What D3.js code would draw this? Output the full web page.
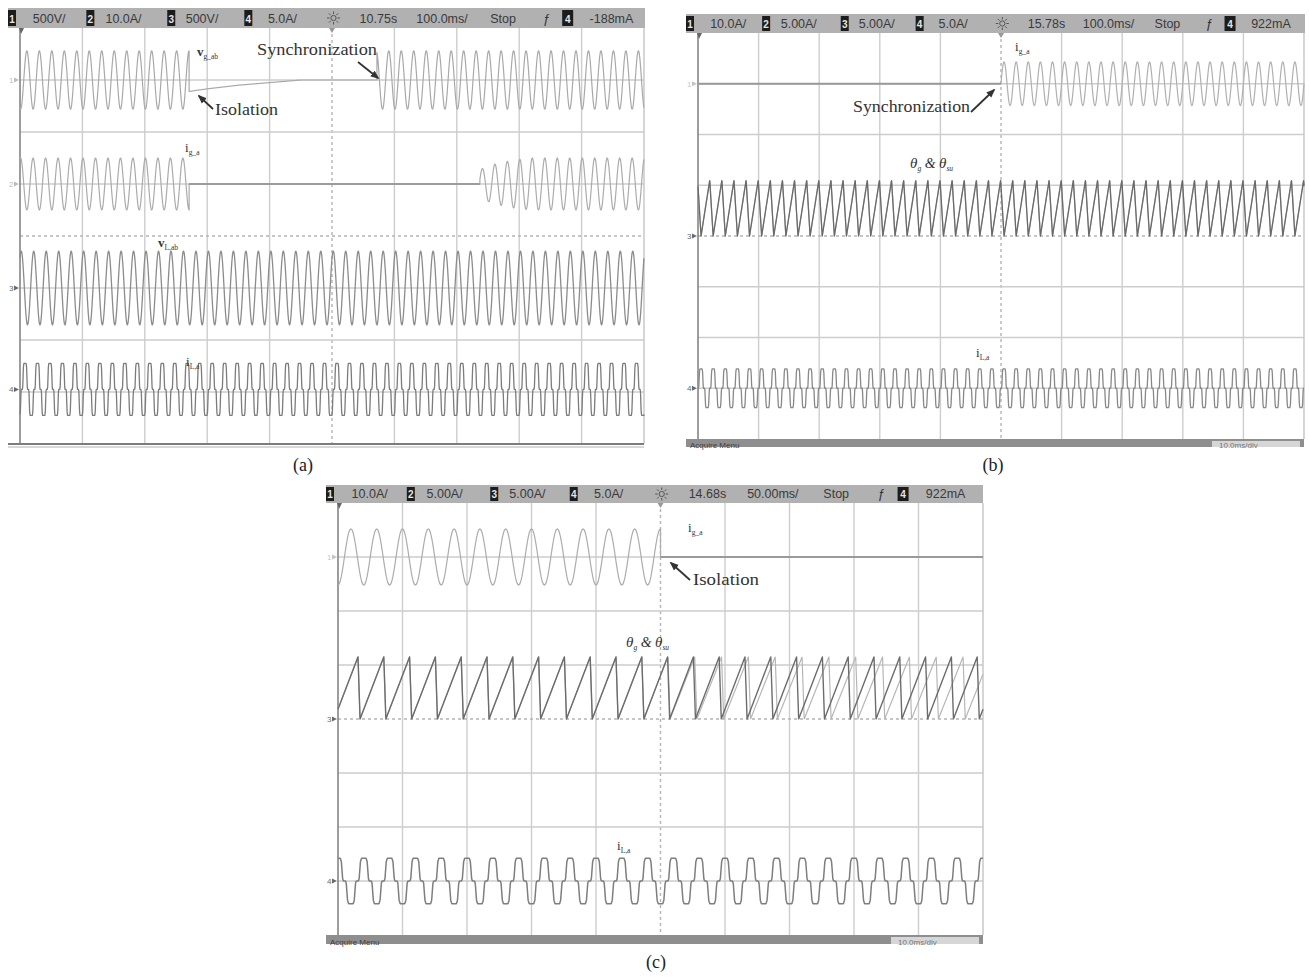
<!DOCTYPE html>
<html>
<head>
<meta charset="utf-8">
<script src="https://cdn.jsdelivr.net/npm/d3@7/dist/d3.min.js"></script>
<style>
  html, body { margin: 0; padding: 0; background: #fff; }
</style>
</head>
<body>
<script>
// ---------- one-cycle waveform shapes (normalised to peak = 1) ----------
// sinusoid, 24 samples per 20 ms cycle, starting at the rising zero crossing
const sineCycle = [0, 0.26, 0.5, 0.71, 0.87, 0.97, 1, 0.97, 0.87, 0.71, 0.5, 0.26,
                   0, -0.26, -0.5, -0.71, -0.87, -0.97, -1, -0.97, -0.87, -0.71, -0.5, -0.26];
// rectifier load current: 120-degree blocks with zero steps between (phase, value)
const loadCycle = [[0, 1], [0.09, 1], [0.13, 0.85], [0.18, 0.1], [0.21, 0], [0.29, 0],
                   [0.32, -0.1], [0.37, -0.85], [0.41, -1], [0.59, -1], [0.63, -0.85],
                   [0.68, -0.1], [0.71, 0], [0.79, 0], [0.82, 0.1], [0.87, 0.85],
                   [0.91, 1], [1, 1]];
// phase angle: ramp 0 -> 2pi, then reset (phase, value) at 50 ms/div
const rampCycle = [[0, 0], [0.92, 1], [1, 0]];
// the same angle as recorded at 100 ms/div (reset spread over the coarser samples)
const rampCycleCoarse = [[0, 0], [0.72, 1], [1, 0]];

// ---------- panel (a): 100 ms/div, values in divisions ----------
const aHeaderScales = ['500V/', '10.0A/', '500V/', '5.0A/'];
const aHeaderStatus = ['10.75s', '100.0ms/', 'Stop', '-188mA'];
const aVgSegments = [
  { from: 0, to: 271, shape: 'sine', origin: 6, period: 20, amp: 0.56 },
  { from: 271, to: 572, points: [[271, -0.22], [300, -0.17], [350, -0.1], [400, -0.05], [451, 0], [572, 0]] },
  { from: 572, to: 1000, shape: 'sine', origin: 6, period: 20, amp: 0.56 }
];
const aIgSegments = [
  { from: 0, to: 271, shape: 'sine', origin: 16, period: 20, amp: 0.5 },
  { from: 271, to: 737, points: [[271, 0], [737, 0]], hold: true },
  { from: 737, to: 1000, shape: 'sine', origin: 16, period: 20,
    amp: [[737, 0.28], [760, 0.38], [790, 0.46], [820, 0.5], [1000, 0.5]] }
];
const aVlSegments = [{ from: 0, to: 1000, shape: 'sine', origin: -3, period: 20, amp: 0.71 }];
const aIlSegments = [{ from: 0, to: 1000, shape: 'load', origin: 8, period: 20, amp: 0.5 }];
const aOffsets = [3, 1, -1, -2.95];

// ---------- panel (b): 100 ms/div ----------
const bHeaderScales = ['10.0A/', '5.00A/', '5.00A/', '5.0A/'];
const bHeaderStatus = ['15.78s', '100.0ms/', 'Stop', '922mA'];
const bIgSegments = [
  { from: 0, to: 500, points: [[0, 0], [500, 0]], hold: true },
  { from: 500, to: 1000, shape: 'sine', origin: 500, period: 20, amp: 0.43 }
];
const bThetaSegments = [{ from: 0, to: 1000, shape: 'rampCoarse', origin: 5, period: 20, amp: 1.1 }];
const bIlSegments = [{ from: 0, to: 1000, shape: 'load', origin: 5, period: 20, amp: 0.38 }];
const bOffsets = [3, 0, 0, -3];

// ---------- panel (c): 50 ms/div ----------
const cHeaderScales = ['10.0A/', '5.00A/', '5.00A/', '5.0A/'];
const cHeaderStatus = ['14.68s', '50.00ms/', 'Stop', '922mA'];
const cIgSegments = [
  { from: 0, to: 250, shape: 'sine', origin: 5, period: 20, amp: 0.52 },
  { from: 250, to: 500, points: [[250, 0], [500, 0]], hold: true }
];
const cThetaSuSegments = [{ from: 0, to: 500, shape: 'ramp', origin: -2.9, period: 20, amp: 1.15 }];
const cThetaGSegments = [
  { from: 0, to: 250, shape: 'ramp', origin: -2.9, period: 20, amp: 1.15 },
  { from: 250, to: 500, shape: 'ramp', origin: 236.6, period: 20.8, amp: 1.15 }
];
const cIlSegments = [{ from: 0, to: 500, shape: 'load', origin: 20, period: 20, amp: 0.42 }];
const cOffsets = [3, 0, 0, -3];

// ---------- helpers ----------
const shapes = { sine: sineCycle, load: loadCycle, ramp: rampCycle, rampCoarse: rampCycleCoarse };

function shapeFn(shape) {
  const pts = Array.isArray(shape[0])
    ? shape
    : shape.map((v, i) => [i / shape.length, v]).concat([[1, shape[0]]]);
  const f = d3.scaleLinear().domain(pts.map(p => p[0])).range(pts.map(p => p[1]));
  return p => f(p - Math.floor(p));
}
function ampFn(amp) {
  if (typeof amp === 'number') return () => amp;
  return d3.scaleLinear().domain(amp.map(p => p[0])).range(amp.map(p => p[1])).clamp(true);
}
function sampleSegment(seg, dt) {
  const n = Math.max(1, Math.round((seg.to - seg.from) / dt));
  const out = [];
  if (seg.points) {
    const f = d3.scaleLinear().domain(seg.points.map(p => p[0])).range(seg.points.map(p => p[1]));
    for (let i = 0; i <= n; i++) {
      const t = seg.from + i * (seg.to - seg.from) / n;
      out.push([t, f(t)]);
    }
  } else {
    const s = shapeFn(shapes[seg.shape]);
    const a = ampFn(seg.amp);
    for (let i = 0; i <= n; i++) {
      const t = seg.from + i * (seg.to - seg.from) / n;
      out.push([t, a(t) * s((t - seg.origin) / seg.period)]);
    }
  }
  return out;
}

const W = 1309, H = 977;
const svg = d3.select('body').append('svg').attr('width', W).attr('height', H)
  .style('display', 'block');
svg.append('rect').attr('width', W).attr('height', H).attr('fill', '#fff');

const defs = svg.append('defs');
defs.append('marker').attr('id', 'arrowHead')
  .attr('viewBox', '0 0 10 10').attr('refX', 8).attr('refY', 5)
  .attr('markerWidth', 5).attr('markerHeight', 5).attr('orient', 'auto')
  .append('path').attr('d', 'M0,1 L10,5 L0,9 Z').attr('fill', '#333');

const SANS = 'Liberation Sans, Arial, sans-serif';
const SERIF = 'Liberation Serif, Times New Roman, serif';

// header layout (fractions of the header width)
const boxFrac = [0, 0.123, 0.25, 0.371];
const scaleFrac = [0.039, 0.153, 0.279, 0.408];
const statusFrac = [0.552, 0.641, 0.757, 0.913];

function drawPanel(cfg) {
  const g = svg.append('g');
  const { x0, x1, y0, y1 } = cfg.plot;
  const x = d3.scaleLinear().domain([0, cfg.span]).range([x0, x1]);
  const y = d3.scaleLinear().domain([-4, 4]).range([y1, y0]);
  const divT = cfg.span / 10;

  // grid
  const grid = g.append('g');
  d3.range(1, 10).forEach(i => {
    grid.append('line').attr('x1', x(i * divT)).attr('x2', x(i * divT))
      .attr('y1', y0).attr('y2', y1)
      .attr('stroke', i === 5 ? '#b4b4b4' : '#cdcdcd').attr('stroke-width', 1.4)
      .attr('stroke-dasharray', i === 5 ? '3,3' : null);
  });
  d3.range(-3, 4).forEach(j => {
    grid.append('line').attr('x1', x0).attr('x2', x1)
      .attr('y1', y(j)).attr('y2', y(j))
      .attr('stroke', j === 0 ? '#b4b4b4' : '#cdcdcd').attr('stroke-width', 1.4)
      .attr('stroke-dasharray', j === 0 ? '3,3' : null);
  });
  grid.append('line').attr('x1', x1).attr('x2', x1).attr('y1', y0).attr('y2', y1)
    .attr('stroke', '#c4c4c4').attr('stroke-width', 1.4);
  grid.append('line').attr('x1', x0).attr('x2', x0).attr('y1', y0).attr('y2', y1)
    .attr('stroke', '#858585').attr('stroke-width', 1.6);
  // time-reference markers
  grid.append('path')
    .attr('d', `M${x(cfg.span / 2) - 3},${y0} L${x(cfg.span / 2) + 3},${y0} L${x(cfg.span / 2)},${y0 + 5} Z`)
    .attr('fill', '#999');
  grid.append('path')
    .attr('d', `M${x0 - 1},${y0} L${x0 + 4},${y0} L${x0 + 1},${y0 + 6} Z`).attr('fill', '#666');

  // traces
  const line = d3.line().x(d => x(d[0])).y(d => d[1]);
  cfg.traces.forEach(tr => {
    const dt = cfg.span / 4000;
    let pts = [];
    tr.segments.forEach(seg => {
      sampleSegment(seg, dt).forEach(p => pts.push([p[0], y(tr.offset + p[1])]));
    });
    g.append('path').attr('d', line(pts)).attr('fill', 'none')
      .attr('stroke', tr.color).attr('stroke-width', tr.width || 1.2)
      .attr('stroke-linejoin', 'round');
    tr.segments.filter(s => s.hold).forEach(seg => {
      const hp = sampleSegment(seg, dt).map(p => [p[0], y(tr.offset + p[1])]);
      g.append('path').attr('d', line(hp)).attr('fill', 'none')
        .attr('stroke', tr.holdColor || tr.color).attr('stroke-width', 2.2);
    });
  });

  // channel ground markers in the left gutter
  cfg.markers.forEach(m => {
    const yy = y(m.offset);
    g.append('text').attr('x', cfg.header.x + 1).attr('y', yy + 3)
      .attr('font-family', SANS).attr('font-size', 8).attr('fill', m.color).text(m.ch);
    g.append('path').attr('d', `M${x0 - 6},${yy - 2.5} L${x0 - 1},${yy} L${x0 - 6},${yy + 2.5} Z`)
      .attr('fill', m.color);
  });

  // header bar
  const hd = cfg.header;
  const hg = g.append('g');
  hg.append('rect').attr('x', hd.x).attr('y', hd.y).attr('width', hd.w).attr('height', hd.h)
    .attr('fill', '#b1b1b1');
  const base = hd.y + hd.h * 0.74;
  boxFrac.forEach((f, i) => {
    const bx = hd.x + f * hd.w;
    hg.append('rect').attr('x', bx).attr('y', hd.y + 2).attr('width', 8).attr('height', hd.h - 4)
      .attr('fill', '#1c1c1c');
    hg.append('text').attr('x', bx + 4).attr('y', base).attr('text-anchor', 'middle')
      .attr('font-family', SANS).attr('font-size', 10).attr('font-weight', 'bold')
      .attr('fill', '#e6e6e6').text(i + 1);
  });
  cfg.headerScales.forEach((s, i) => {
    hg.append('text').attr('x', hd.x + scaleFrac[i] * hd.w).attr('y', base)
      .attr('font-family', SANS).attr('font-size', 12.5).attr('fill', '#3a3a3a').text(s);
  });
  cfg.headerStatus.forEach((s, i) => {
    hg.append('text').attr('x', hd.x + statusFrac[i] * hd.w).attr('y', base)
      .attr('font-family', SANS).attr('font-size', 12.5).attr('fill', '#3a3a3a').text(s);
  });
  // acquisition (run) indicator
  const sx = hd.x + 0.511 * hd.w, sy = hd.y + hd.h / 2;
  hg.append('circle').attr('cx', sx).attr('cy', sy).attr('r', 2.6)
    .attr('fill', 'none').attr('stroke', '#555').attr('stroke-width', 1);
  d3.range(8).forEach(k => {
    const a = k * Math.PI / 4;
    hg.append('line').attr('x1', sx + 4 * Math.cos(a)).attr('y1', sy + 4 * Math.sin(a))
      .attr('x2', sx + 6.5 * Math.cos(a)).attr('y2', sy + 6.5 * Math.sin(a))
      .attr('stroke', '#555').attr('stroke-width', 1);
  });
  // trigger edge and trigger source
  hg.append('text').attr('x', hd.x + 0.839 * hd.w).attr('y', base)
    .attr('font-family', SANS).attr('font-size', 13).attr('font-style', 'italic')
    .attr('fill', '#333').text('ƒ');
  const tb = hd.x + 0.87 * hd.w;
  hg.append('rect').attr('x', tb).attr('y', hd.y + 2).attr('width', 11).attr('height', hd.h - 4)
    .attr('fill', '#1c1c1c');
  hg.append('text').attr('x', tb + 5.5).attr('y', base).attr('text-anchor', 'middle')
    .attr('font-family', SANS).attr('font-size', 10).attr('font-weight', 'bold')
    .attr('fill', '#e6e6e6').text(4);

  // bottom edge
  if (cfg.bottom === 'line') {
    g.append('line').attr('x1', hd.x).attr('x2', x1).attr('y1', y1).attr('y2', y1)
      .attr('stroke', '#7c7c7c').attr('stroke-width', 2);
    g.append('line').attr('x1', hd.x).attr('x2', x1).attr('y1', y1 + 3).attr('y2', y1 + 3)
      .attr('stroke', '#b0b0b0').attr('stroke-width', 1);
  } else {
    const bh = cfg.bottomH;
    g.append('rect').attr('x', hd.x).attr('y', y1).attr('width', x1 - hd.x).attr('height', bh)
      .attr('fill', '#8e8e8e');
    g.append('rect').attr('x', x1 - 92).attr('y', y1 + 2).attr('width', 88).attr('height', bh - 2)
      .attr('fill', '#d6d6d6');
    g.append('text').attr('x', hd.x + 4).attr('y', y1 + bh + 1)
      .attr('font-family', SANS).attr('font-size', 8).attr('fill', '#3e3e3e').text('Acquire Menu');
    g.append('text').attr('x', x1 - 85).attr('y', y1 + bh + 1)
      .attr('font-family', SANS).attr('font-size', 8).attr('fill', '#777').text('10.0ms/div');
  }

  // caption
  g.append('text').attr('x', cfg.caption.x).attr('y', cfg.caption.y).attr('text-anchor', 'middle')
    .attr('font-family', SERIF).attr('font-size', 18).attr('fill', '#222').text(cfg.caption.text);
  return g;
}

// ---------- annotation helpers ----------
function subLabel(x, y, base, sub, opt = {}) {
  const t = svg.append('text').attr('x', x).attr('y', y)
    .attr('font-family', SERIF).attr('fill', opt.fill || '#333');
  t.append('tspan').text(base).attr('font-size', opt.size || 13)
    .attr('font-weight', opt.bold ? 'bold' : null);
  t.append('tspan').text(sub).attr('font-size', opt.subSize || 7.5).attr('dy', 3);
  return t;
}
function thetaLabel(x, y) {
  const t = svg.append('text').attr('x', x).attr('y', y)
    .attr('font-family', SERIF).attr('font-style', 'italic').attr('fill', '#333');
  t.append('tspan').text('θ').attr('font-size', 15);
  t.append('tspan').text('g').attr('font-size', 7.5).attr('dy', 3);
  t.append('tspan').text(' & ').attr('font-size', 14).attr('dy', -3);
  t.append('tspan').text('θ').attr('font-size', 15);
  t.append('tspan').text('su').attr('font-size', 7.5).attr('dy', 3);
}
function note(x, y, text, len) {
  svg.append('text').attr('x', x).attr('y', y).attr('font-family', SERIF)
    .attr('font-size', 16).attr('fill', '#333')
    .attr('textLength', len).attr('lengthAdjust', 'spacingAndGlyphs').text(text);
}
function arrow(xa, ya, xb, yb) {
  svg.append('line').attr('x1', xa).attr('y1', ya).attr('x2', xb).attr('y2', yb)
    .attr('stroke', '#333').attr('stroke-width', 1.8).attr('marker-end', 'url(#arrowHead)');
}

// ---------- panel (a) ----------
drawPanel({
  plot: { x0: 20, x1: 644, y0: 28, y1: 444 }, span: 1000,
  header: { x: 8, y: 8, w: 637, h: 20 },
  headerScales: aHeaderScales, headerStatus: aHeaderStatus,
  traces: [
    { segments: aVgSegments, offset: aOffsets[0], color: '#a9a9a9', holdColor: '#a0a0a0' },
    { segments: aIgSegments, offset: aOffsets[1], color: '#ababab', holdColor: '#9c9c9c' },
    { segments: aVlSegments, offset: aOffsets[2], color: '#8c8c8c', width: 1.3 },
    { segments: aIlSegments, offset: aOffsets[3], color: '#7c7c7c', width: 1.3 }
  ],
  markers: [
    { ch: 1, offset: aOffsets[0], color: '#bdbdbd' },
    { ch: 2, offset: aOffsets[1], color: '#bdbdbd' },
    { ch: 3, offset: aOffsets[2], color: '#6a6a6a' },
    { ch: 4, offset: aOffsets[3], color: '#6a6a6a' }
  ],
  bottom: 'line',
  caption: { text: '(a)', x: 303, y: 471 }
});

// ---------- panel (b) ----------
drawPanel({
  plot: { x0: 698, x1: 1304, y0: 33, y1: 439 }, span: 1000,
  header: { x: 686, y: 14, w: 619, h: 19 },
  headerScales: bHeaderScales, headerStatus: bHeaderStatus,
  traces: [
    { segments: bIgSegments, offset: bOffsets[0], color: '#b0b0b0', holdColor: '#9a9a9a' },
    { segments: bThetaSegments, offset: bOffsets[1], color: '#b8b8b8' },
    { segments: bThetaSegments, offset: bOffsets[2], color: '#6a6a6a', width: 1.3 },
    { segments: bIlSegments, offset: bOffsets[3], color: '#888888', width: 1.3 }
  ],
  markers: [
    { ch: 1, offset: bOffsets[0], color: '#c4c4c4' },
    { ch: 3, offset: bOffsets[2], color: '#6a6a6a' },
    { ch: 4, offset: bOffsets[3], color: '#6a6a6a' }
  ],
  bottom: 'strip', bottomH: 8,
  caption: { text: '(b)', x: 993, y: 471 }
});

// ---------- panel (c) ----------
drawPanel({
  plot: { x0: 338, x1: 983, y0: 503, y1: 935 }, span: 500,
  header: { x: 326, y: 485, w: 657, h: 18 },
  headerScales: cHeaderScales, headerStatus: cHeaderStatus,
  traces: [
    { segments: cIgSegments, offset: cOffsets[0], color: '#acacac', holdColor: '#9a9a9a' },
    { segments: cThetaGSegments, offset: cOffsets[1], color: '#b6b6b6', width: 1.2 },
    { segments: cThetaSuSegments, offset: cOffsets[2], color: '#6c6c6c', width: 1.4 },
    { segments: cIlSegments, offset: cOffsets[3], color: '#7e7e7e', width: 1.5 }
  ],
  markers: [
    { ch: 1, offset: cOffsets[0], color: '#c4c4c4' },
    { ch: 3, offset: cOffsets[2], color: '#6a6a6a' },
    { ch: 4, offset: cOffsets[3], color: '#6a6a6a' }
  ],
  bottom: 'strip', bottomH: 9,
  caption: { text: '(c)', x: 656, y: 968 }
});

// ---------- annotations ----------
// (a)
subLabel(197, 56, 'v', 'g_ab', { bold: true, size: 13 });
note(257, 55, 'Synchronization', 120);
arrow(358, 62, 378, 78);
note(215, 115, 'Isolation', 63);
arrow(213, 109, 199, 96);
subLabel(185, 152, 'i', 'g_a', { size: 13 });
subLabel(158, 247, 'v', 'L,ab', { bold: true, size: 13 });
subLabel(186, 366, 'i', 'L,a', { size: 13 });
// (b)
subLabel(1015, 51, 'i', 'g_a', { size: 13 });
note(853, 112, 'Synchronization', 117);
arrow(971, 112, 994, 90);
thetaLabel(910, 168);
subLabel(976, 357, 'i', 'L,a', { size: 13 });
// (c)
subLabel(688, 532, 'i', 'g_a', { size: 13 });
note(693, 585, 'Isolation', 66);
arrow(690, 580, 671, 563);
thetaLabel(626, 647);
subLabel(617, 850, 'i', 'L,a', { size: 13 });
</script>
</body>
</html>
